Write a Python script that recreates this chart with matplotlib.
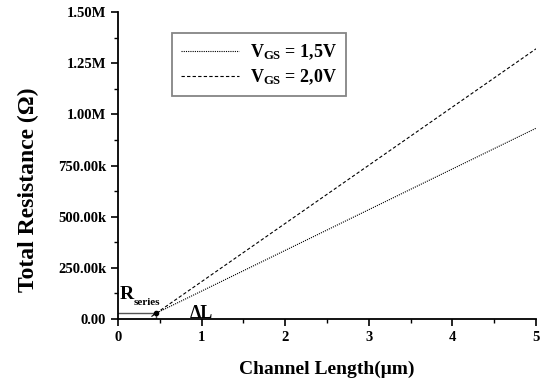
import matplotlib
matplotlib.use("Agg")
import matplotlib.pyplot as plt
from matplotlib.ticker import MultipleLocator, FuncFormatter

plt.rcParams['font.family'] = ['Liberation Serif', 'DejaVu Serif']
plt.rcParams['font.weight'] = 'bold'
plt.rcParams['mathtext.fontset'] = 'custom'
plt.rcParams['mathtext.rm'] = 'Liberation Serif:bold'
plt.rcParams['mathtext.bf'] = 'Liberation Serif:bold'
plt.rcParams['mathtext.it'] = 'Liberation Serif:bold'

# data
length_15 = [0.42, 5.0]
res_15 = [2.1e4, 9.32e5]
length_20 = [0.40, 5.0]
res_20 = [1.2e4, 1.32e6]
r_series = 2.8e4
l_offset = 0.455
y_ticks = [0, 250e3, 500e3, 750e3, 1.0e6, 1.25e6, 1.5e6]


def fmt(v, pos):
    if v == 0:
        return "0.00"
    if v >= 1e6:
        return f"{v/1e6:.2f}M"
    return f"{v/1e3:.2f}k"


fig = plt.figure(figsize=(5.52, 3.87), dpi=100)
ax = fig.add_axes([0.2138, 0.1757, 0.7572, 0.7933])

ax.plot(length_15, res_15, color='black', lw=0.8, ls=(0, (1, 1)),
        label=r'V$_{\mathrm{GS}}$ = 1,5V')
ax.plot(length_20, res_20, color='black', lw=0.8, ls=(0, (3, 2)),
        label=r'V$_{\mathrm{GS}}$ = 2,0V')

# R_series / delta L construction
ax.plot([0, l_offset], [r_series, r_series], color='#555555', lw=1.0)
ax.plot([l_offset, l_offset], [0, r_series], color='#555555', lw=1.0)
ax.plot([l_offset], [r_series], 'o', color='black', ms=3)
ax.text(0.02, 9.8e4, 'R', fontsize=14, fontweight='bold')
ax.text(0.185, 6.8e4, 'series', fontsize=8, fontweight='bold')
ax.text(0.86, 6e3, 'ΔL', fontsize=13, fontweight='bold')

ax.set_xlim(0, 5)
ax.set_ylim(0, 1.5e6)
ax.set_yticks(y_ticks)
ax.yaxis.set_major_formatter(FuncFormatter(fmt))
ax.xaxis.set_major_locator(MultipleLocator(1))
ax.xaxis.set_minor_locator(MultipleLocator(0.5))
ax.yaxis.set_minor_locator(MultipleLocator(125e3))
ax.spines['top'].set_visible(False)
ax.spines['right'].set_visible(False)
ax.spines['left'].set_linewidth(1.3)
ax.spines['bottom'].set_linewidth(1.3)
ax.tick_params(which='major', length=5, width=1.2, labelsize=10.5)
ax.tick_params(which='minor', length=3, width=1.0)
for lab in ax.get_xticklabels() + ax.get_yticklabels():
    lab.set_fontweight('bold')

ax.set_xlabel('Channel Length(μm)', fontsize=14, fontweight='bold', labelpad=12)
ax.set_ylabel('Total Resistance (Ω)', fontsize=17, fontweight='bold')
ax.yaxis.set_label_coords(-0.19, 0.42)

leg = ax.legend(loc='upper left', bbox_to_anchor=(0.129, 0.93), fontsize=13,
                frameon=True, fancybox=False, handlelength=3.2, borderpad=0.5,
                labelspacing=0.3, handletextpad=0.6, borderaxespad=0)
leg.get_frame().set_edgecolor('#666666')
leg.get_frame().set_linewidth(1.3)

fig.savefig('out.png', dpi=100)
